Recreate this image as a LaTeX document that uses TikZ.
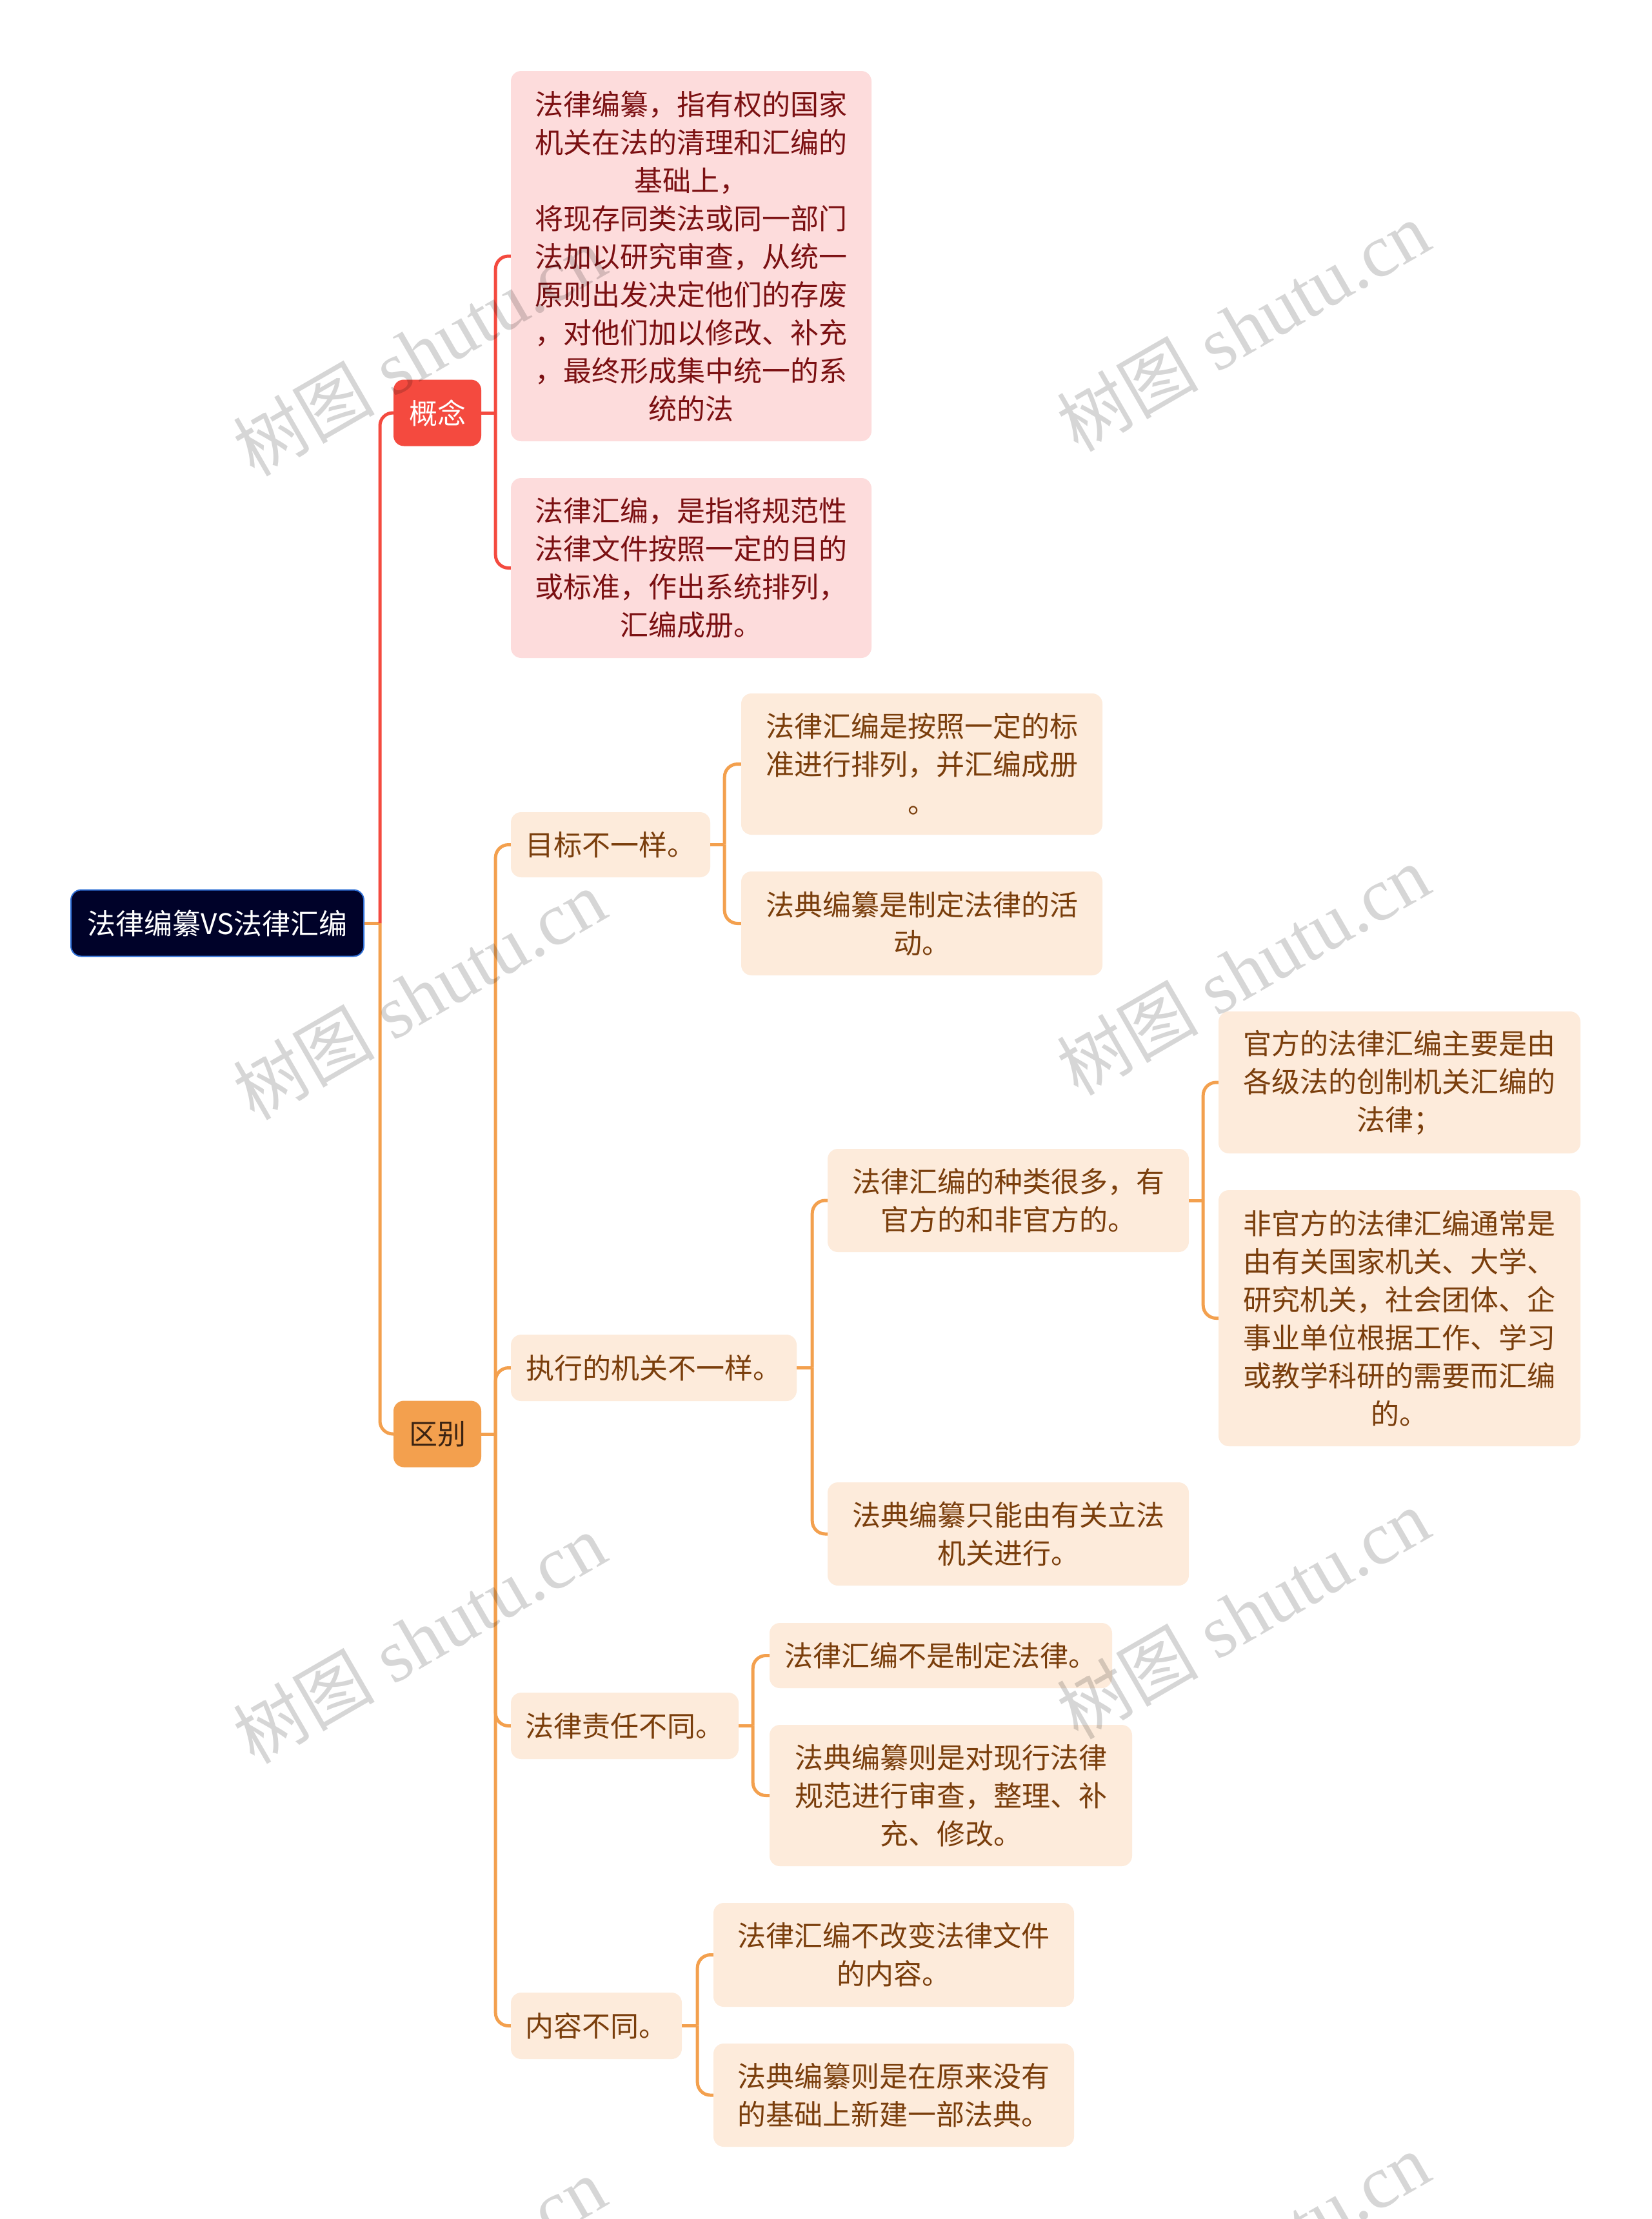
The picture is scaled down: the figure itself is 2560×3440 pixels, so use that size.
\documentclass[tikz,border=0pt]{standalone}
\usepackage{fontspec}
\newfontfamily\cjk{Noto Sans CJK SC}
\newfontfamily\wmserif{Liberation Serif}
\definecolor{rootfill}{HTML}{000229}
\definecolor{rootdraw}{HTML}{2F6FD6}
\definecolor{redc}{HTML}{F44A3F}
\definecolor{orangec}{HTML}{F3A04E}
\definecolor{pinkfill}{HTML}{FDDCDC}
\definecolor{pinktext}{HTML}{7B1012}
\definecolor{peachfill}{HTML}{FDEBDB}
\definecolor{peachtext}{HTML}{7A3E0C}
\definecolor{darktext}{HTML}{3B2312}
\tikzset{
  base/.style={inner sep=0pt, rounded corners=16pt, align=center, font=\cjk\fontsize{44}{59}\selectfont},
  rootnode/.style={base, fill=rootfill, draw=rootdraw, line width=2pt, text=white},
  conceptnode/.style={base, fill=redc, text=white},
  diffnode/.style={base, fill=orangec, text=darktext},
  pinknode/.style={base, fill=pinkfill, text=pinktext},
  peachnode/.style={base, fill=peachfill, text=peachtext},
  redline/.style={draw=redc, line width=5pt, rounded corners=20pt},
  orangeline/.style={draw=orangec, line width=5pt, rounded corners=20pt},
  wm/.style={rotate=30, text=black, opacity=0.16, inner sep=0pt},
}
\begin{document}
\begin{tikzpicture}[x=1pt, y=-1pt]
\useasboundingbox (0,0) rectangle (2560,3440);
\fill[white] (0,0) rectangle (2560,3440);

% nodes
\node[rootnode, minimum width=454pt, minimum height=103pt] (root) at (337,1431) {法律编纂VS法律汇编};
\node[conceptnode, minimum width=136pt, minimum height=103pt] (concept) at (678,640) {概念};
\node[diffnode, minimum width=136pt, minimum height=103pt] (diff) at (678,2223) {区别};

\node[pinknode, minimum width=559pt, minimum height=574pt] (c1) at (1071.5,397) {法律编纂，指有权的国家\\机关在法的清理和汇编的\\基础上，\\将现存同类法或同一部门\\法加以研究审查，从统一\\原则出发决定他们的存废\\，对他们加以修改、补充\\，最终形成集中统一的系\\统的法};
\node[pinknode, minimum width=559pt, minimum height=279pt] (c2) at (1071.5,880.5) {法律汇编，是指将规范性\\法律文件按照一定的目的\\或标准，作出系统排列，\\汇编成册。};

\node[peachnode, minimum width=309pt, minimum height=101pt] (d1) at (946.5,1309.5) {目标不一样。};
\node[peachnode, minimum width=443pt, minimum height=103pt] (d2) at (1013.5,2120.5) {执行的机关不一样。};
\node[peachnode, minimum width=353pt, minimum height=103pt] (d3) at (968.5,2675.5) {法律责任不同。};
\node[peachnode, minimum width=265pt, minimum height=103pt] (d4) at (924.5,3140.5) {内容不同。};

\node[peachnode, minimum width=560pt, minimum height=219pt] (e1) at (1429,1184.5) {法律汇编是按照一定的标\\准进行排列，并汇编成册\\。};
\node[peachnode, minimum width=560pt, minimum height=161pt] (e2) at (1429,1431.5) {法典编纂是制定法律的活\\动。};

\node[peachnode, minimum width=560pt, minimum height=160pt] (f1) at (1563,1861) {法律汇编的种类很多，有\\官方的和非官方的。};
\node[peachnode, minimum width=560pt, minimum height=160pt] (f2) at (1563,2378) {法典编纂只能由有关立法\\机关进行。};

\node[peachnode, minimum width=561pt, minimum height=220pt] (g1) at (2169.5,1678) {官方的法律汇编主要是由\\各级法的创制机关汇编的\\法律；};
\node[peachnode, minimum width=561pt, minimum height=397pt] (g2) at (2169.5,2043.5) {非官方的法律汇编通常是\\由有关国家机关、大学、\\研究机关，社会团体、企\\事业单位根据工作、学习\\或教学科研的需要而汇编\\的。};

\node[peachnode, minimum width=531pt, minimum height=101pt] (h1) at (1458.5,2566.5) {法律汇编不是制定法律。};
\node[peachnode, minimum width=562pt, minimum height=219pt] (h2) at (1474,2783.5) {法典编纂则是对现行法律\\规范进行审查，整理、补\\充、修改。};

\node[peachnode, minimum width=559pt, minimum height=161pt] (i1) at (1385.5,3030.5) {法律汇编不改变法律文件\\的内容。};
\node[peachnode, minimum width=559pt, minimum height=160pt] (i2) at (1385.5,3248) {法典编纂则是在原来没有\\的基础上新建一部法典。};

% connectors
\draw[orangeline] (root.east) -- ++(24,0) coordinate (jroot);
\draw[orangeline] (jroot) |- (diff.west);
\draw[redline] (jroot) |- (concept.west);

\draw[redline] (concept.east) -- ++(22,0) coordinate (jconcept);
\draw[redline] (jconcept) |- (c1.west);
\draw[redline] (jconcept) |- (c2.west);

\draw[orangeline] (diff.east) -- ++(22,0) coordinate (jdiff);
\foreach \t in {d1,d2,d3,d4} \draw[orangeline] (jdiff) |- (\t.west);

\draw[orangeline] (d1.east) -- ++(22,0) coordinate (jd1);
\draw[orangeline] (jd1) |- (e1.west);
\draw[orangeline] (jd1) |- (e2.west);

\draw[orangeline] (d2.east) -- ++(24,0) coordinate (jd2);
\draw[orangeline] (jd2) |- (f1.west);
\draw[orangeline] (jd2) |- (f2.west);

\draw[orangeline] (f1.east) -- ++(22,0) coordinate (jf1);
\draw[orangeline] (jf1) |- (g1.west);
\draw[orangeline] (jf1) |- (g2.west);

\draw[orangeline] (d3.east) -- ++(22,0) coordinate (jd3);
\draw[orangeline] (jd3) |- (h1.west);
\draw[orangeline] (jd3) |- (h2.west);

\draw[orangeline] (d4.east) -- ++(24,0) coordinate (jd4);
\draw[orangeline] (jd4) |- (i1.west);
\draw[orangeline] (jd4) |- (i2.west);

% watermarks
\foreach \wx/\wy [count=\k] in {650/545, 1927/507, 650/1543, 1927/1505, 650/2541, 1927/2503, 650/3539, 1927/3501}
  \node[wm] (wm\k) at (\wx,\wy) {{\cjk\fontsize{110}{110}\selectfont 树图}{\wmserif\fontsize{116}{116}\selectfont\ shutu.cn}};
\end{tikzpicture}
\end{document}
